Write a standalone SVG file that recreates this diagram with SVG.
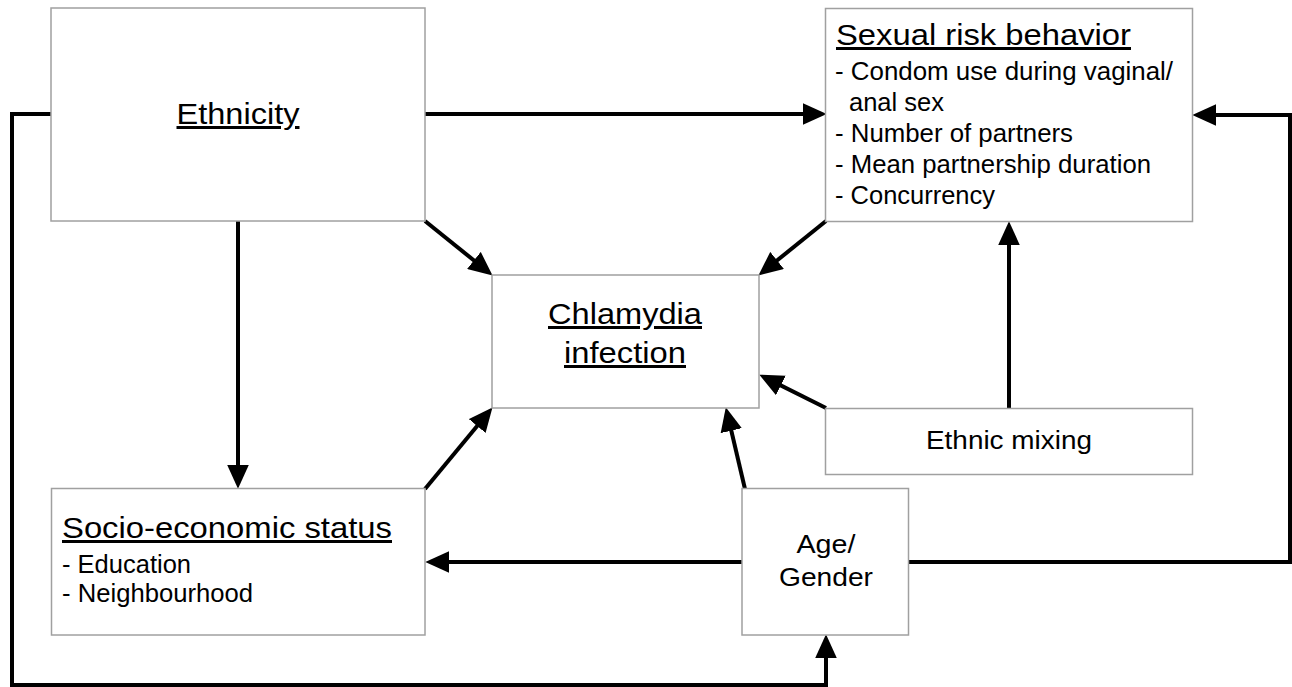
<svg xmlns="http://www.w3.org/2000/svg" width="1292" height="687" viewBox="0 0 1292 687">
<style>
.box{fill:#fff;stroke:#a0a0a0;stroke-width:1.5}
text{font-family:"Liberation Sans",Arial,sans-serif;fill:#000}
.t{font-size:30px;text-decoration:underline}
.b{font-size:25px}
.m{font-size:26px}
.c{stroke:#000;stroke-width:4;fill:none;stroke-linejoin:miter}
</style>
<defs>
<marker id="ah" markerUnits="userSpaceOnUse" markerWidth="24" markerHeight="22" refX="14" refY="10" orient="auto" viewBox="0 0 22 20">
<path d="M0,0 L22,10 L0,20 z" fill="#000"/>
</marker>
</defs>
<rect width="1292" height="687" fill="#fff"/>
<g id="connectors">
<path class="c" d="M425,114 H818" marker-end="url(#ah)"/>
<path class="c" d="M238,221 V480" marker-end="url(#ah)"/>
<path class="c" d="M1009,408 V230" marker-end="url(#ah)"/>
<path class="c" d="M742,562 H434" marker-end="url(#ah)"/>
<path class="c" d="M908,562 H1290 V115 H1201" marker-end="url(#ah)"/>
<path class="c" d="M51,114 H12 V685 H826 V643" marker-end="url(#ah)"/>
<path class="c" d="M425,221 L485.8,270" marker-end="url(#ah)"/>
<path class="c" d="M826,221 L765.2,270" marker-end="url(#ah)"/>
<path class="c" d="M826,408 L767.2,378.6" marker-end="url(#ah)"/>
<path class="c" d="M745,489 L727.8,415.8" marker-end="url(#ah)"/>
<path class="c" d="M425,489 L486.9,414.2" marker-end="url(#ah)"/>
</g>
<g id="ethnicity">
<rect class="box" x="51" y="8" width="374" height="213"/>
<text class="t" x="238" y="124" text-anchor="middle" textLength="123" lengthAdjust="spacingAndGlyphs">Ethnicity</text>
</g>
<g id="sexual-risk">
<rect class="box" x="825.5" y="8.5" width="367" height="213"/>
<text class="t" x="836" y="45" textLength="295" lengthAdjust="spacingAndGlyphs">Sexual risk behavior</text>
<text class="b" x="835" y="80" textLength="338" lengthAdjust="spacingAndGlyphs">- Condom use during vaginal/</text>
<text class="b" x="849" y="111" textLength="95" lengthAdjust="spacingAndGlyphs">anal sex</text>
<text class="b" x="835" y="142" textLength="238" lengthAdjust="spacingAndGlyphs">- Number of partners</text>
<text class="b" x="835" y="173" textLength="316" lengthAdjust="spacingAndGlyphs">- Mean partnership duration</text>
<text class="b" x="835" y="204" textLength="160" lengthAdjust="spacingAndGlyphs">- Concurrency</text>
</g>
<g id="chlamydia">
<rect class="box" x="492" y="275" width="267" height="133"/>
<text class="t" x="625" y="324" text-anchor="middle" textLength="154" lengthAdjust="spacingAndGlyphs">Chlamydia</text>
<text class="t" x="625" y="363" text-anchor="middle" textLength="122" lengthAdjust="spacingAndGlyphs">infection</text>
</g>
<g id="ethnic-mixing">
<rect class="box" x="825.5" y="408.5" width="367" height="66"/>
<text class="m" x="1009" y="449" text-anchor="middle" textLength="166" lengthAdjust="spacingAndGlyphs">Ethnic mixing</text>
</g>
<g id="ses">
<rect class="box" x="51.5" y="488.5" width="373.5" height="146.5"/>
<text class="t" x="62" y="538" textLength="330" lengthAdjust="spacingAndGlyphs">Socio-economic status</text>
<text class="b" x="62" y="573" textLength="129" lengthAdjust="spacingAndGlyphs">- Education</text>
<text class="b" x="62" y="602" textLength="191" lengthAdjust="spacingAndGlyphs">- Neighbourhood</text>
</g>
<g id="age-gender">
<rect class="box" x="742" y="488.5" width="166.5" height="146.5"/>
<text class="m" x="826" y="553" text-anchor="middle" textLength="59" lengthAdjust="spacingAndGlyphs">Age/</text>
<text class="m" x="826" y="586" text-anchor="middle" textLength="94" lengthAdjust="spacingAndGlyphs">Gender</text>
</g>
</svg>
